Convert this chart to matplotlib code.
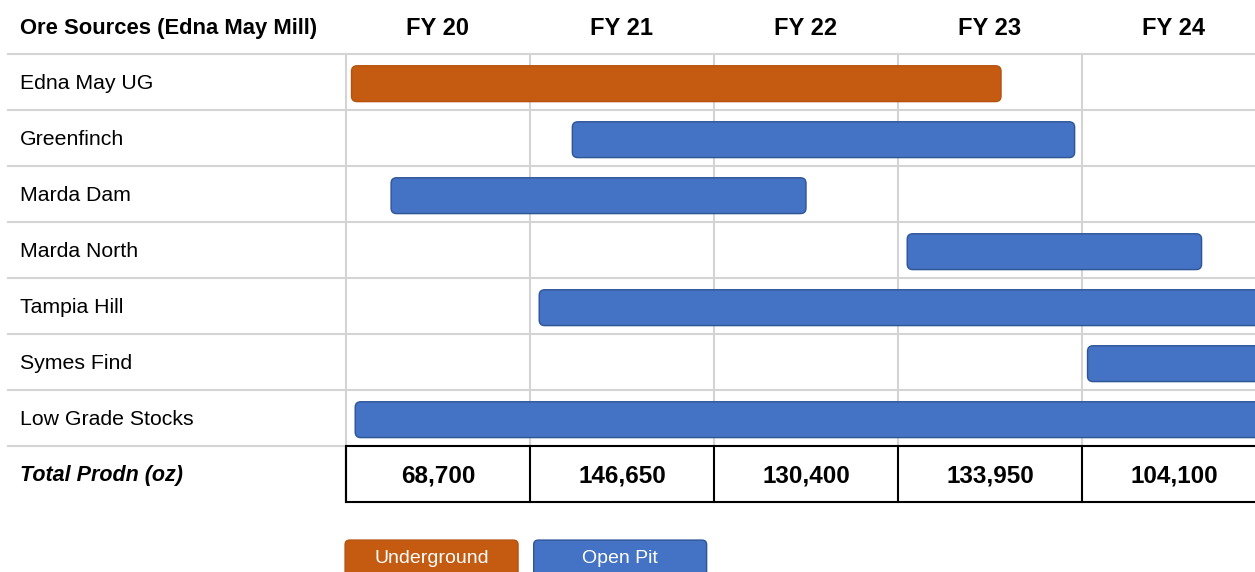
import matplotlib
matplotlib.use("Agg")
import matplotlib.pyplot as plt
from matplotlib.patches import FancyBboxPatch, Rectangle

# ---- data ----
years   = ["FY 20", "FY 21", "FY 22", "FY 23", "FY 24"]
sources = ["Edna May UG", "Greenfinch", "Marda Dam", "Marda North",
           "Tampia Hill", "Symes Find", "Low Grade Stocks"]
# start / end measured in fiscal-year columns from the start of FY 20
starts  = [0.03, 1.23, 0.245, 3.05, 1.05, 4.03, 0.05]
ends    = [3.56, 3.96, 2.50, 4.65, 5.20, 5.20, 5.20]
kinds   = ["Underground", "Open Pit", "Open Pit", "Open Pit",
           "Open Pit", "Open Pit", "Open Pit"]
totals  = ["68,700", "146,650", "130,400", "133,950", "104,100"]

colors = {"Underground": "#C55A11", "Open Pit": "#4472C4"}
edges  = {"Underground": "#B45310", "Open Pit": "#2F5597"}

FONT = ["Liberation Sans Narrow", "Liberation Sans", "DejaVu Sans"]
plt.rcParams["font.family"] = FONT

fig = plt.figure(figsize=(12.55, 5.72), dpi=100, facecolor="white")
ax = fig.add_axes([0, 0, 1, 1])
# 1 column = 184 px, 1 row = 56 px
col_px, row_px = 184.0, 56.0
ax.set_xlim(-346 / col_px, (1255 - 346) / col_px)
ax.set_ylim((572 - 54) / row_px, -54 / row_px)
ax.axis("off")

grid = "#D4D4D4"
n_rows = len(sources)
left = -338 / col_px
text_x = -326 / col_px

# grid lines
for i in range(n_rows + 1):
    ax.plot([left, 6], [i, i], color=grid, lw=1.5, zorder=1)
for j in range(len(years)):
    ax.plot([j, j], [0, n_rows], color=grid, lw=1.5, zorder=1)

# header
ax.text(text_x, -0.46, "Ore Sources (Edna May Mill)",
        fontsize=15.8, fontweight="bold", ha="left", va="center")
for j, y in enumerate(years):
    ax.text(j + 0.5, -0.46, y, fontsize=17, fontweight="bold",
            ha="center", va="center")

# rows + bars
bar_h = 0.64
aspect = col_px / row_px
for i, (name, s, e, k) in enumerate(zip(sources, starts, ends, kinds)):
    ax.text(text_x, i + 0.53, name, fontsize=15.3,
            ha="left", va="center")
    ax.add_patch(FancyBboxPatch((s, i + 0.5 - bar_h / 2 + 0.03), e - s, bar_h,
                                boxstyle="round,pad=0,rounding_size=0.03",
                                mutation_aspect=aspect,
                                facecolor=colors[k], edgecolor=edges[k],
                                lw=1.0, zorder=3))

# totals row
ty = n_rows
ax.text(text_x, ty + 0.53, "Total Prodn (oz)", fontsize=15.5,
        fontweight="bold", style="italic", ha="left", va="center")
ax.add_patch(Rectangle((0, ty), 6, 1, facecolor="none", edgecolor="black",
                       lw=1.5, zorder=4))
for j, t in enumerate(totals):
    ax.plot([j, j], [ty, ty + 1], color="black", lw=1.5, zorder=4)
    ax.text(j + 0.5, ty + 0.53, t, fontsize=17.5, fontweight="bold",
            ha="center", va="center")

# legend boxes
leg = [("Underground", -0.005), ("Open Pit", 1.02)]
for lab, x0 in leg:
    ax.add_patch(FancyBboxPatch((x0, 8.68), 0.94, 0.8,
                                boxstyle="round,pad=0,rounding_size=0.025",
                                mutation_aspect=aspect,
                                facecolor=colors[lab], edgecolor=edges[lab],
                                lw=1.0, zorder=3))
    ax.text(x0 + 0.47, 9.01, lab, fontsize=14, color="white",
            ha="center", va="center", zorder=4)

fig.savefig("out.png", dpi=100, facecolor="white")
